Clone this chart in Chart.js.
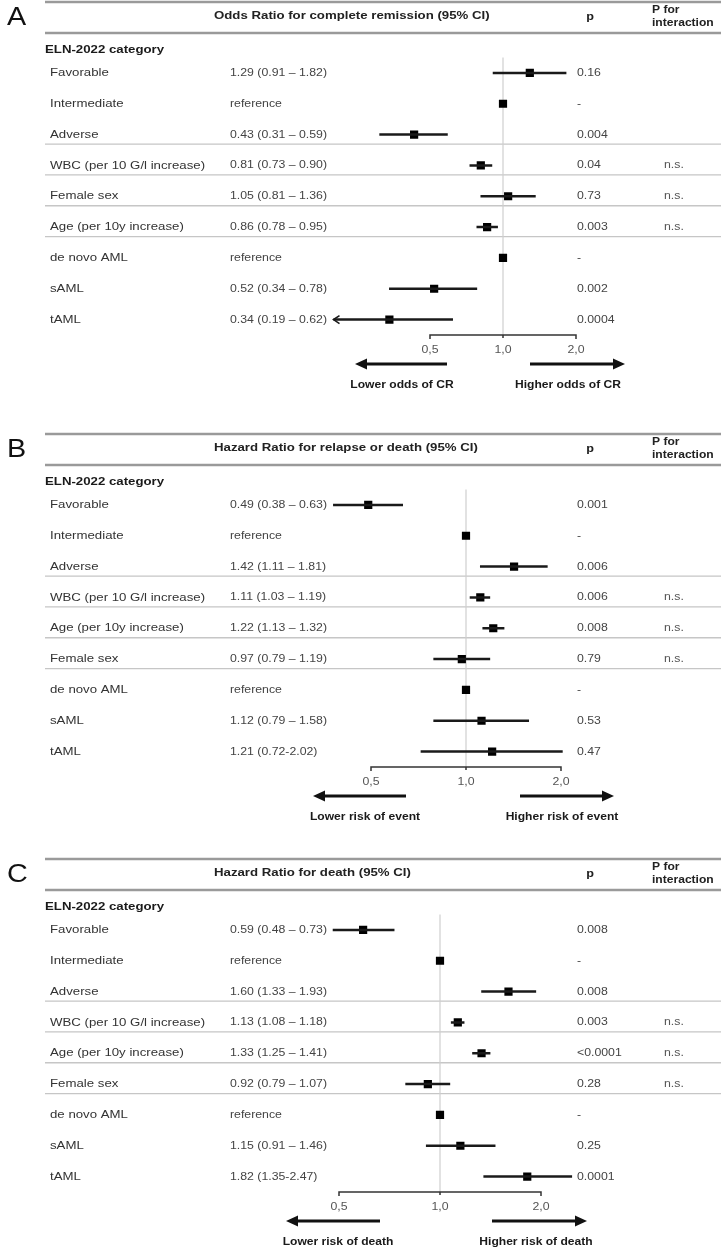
<!DOCTYPE html>
<html>
<head>
<meta charset="utf-8">
<script src="https://cdn.jsdelivr.net/npm/chart.js@4.4.1/dist/chart.umd.min.js"></script>
<style>
  html, body { margin: 0; padding: 0; background: #fff; }
  #wrap { position: relative; width: 721px; height: 1250px; }
  canvas { position: absolute; left: 0; }
</style>
</head>
<body>
<div id="wrap">
  <canvas id="chartA"></canvas>
  <canvas id="chartB"></canvas>
  <canvas id="chartC"></canvas>
</div>
<script>
// ---- data ----
const rowsA = ['Favorable', 'Intermediate', 'Adverse', 'WBC (per 10 G/l increase)', 'Female sex',
  'Age (per 10y increase)', 'de novo AML', 'sAML', 'tAML'];
const rowsBC = ['Favorable', 'Intermediate', 'Adverse', 'WBC (per 10 G/l increase)', 'Age (per 10y increase)',
  'Female sex', 'de novo AML', 'sAML', 'tAML'];

// A: odds ratio for complete remission
const estA = [1.29, 1, 0.43, 0.81, 1.05, 0.86, 1, 0.52, 0.34];
const loA = [0.91, null, 0.31, 0.73, 0.81, 0.78, null, 0.34, 0.19];
const hiA = [1.82, null, 0.59, 0.90, 1.36, 0.95, null, 0.78, 0.62];
const textA = ['1.29 (0.91 – 1.82)', 'reference', '0.43 (0.31 – 0.59)', '0.81 (0.73 – 0.90)', '1.05 (0.81 – 1.36)',
  '0.86 (0.78 – 0.95)', 'reference', '0.52 (0.34 – 0.78)', '0.34 (0.19 – 0.62)'];
const pA = ['0.16', '-', '0.004', '0.04', '0.73', '0.003', '-', '0.002', '0.0004'];
const intA = ['', '', '', 'n.s.', 'n.s.', 'n.s.', '', '', ''];

// B: hazard ratio for relapse or death
const estB = [0.49, 1, 1.42, 1.11, 1.22, 0.97, 1, 1.12, 1.21];
const loB = [0.38, null, 1.11, 1.03, 1.13, 0.79, null, 0.79, 0.72];
const hiB = [0.63, null, 1.81, 1.19, 1.32, 1.19, null, 1.58, 2.02];
const textB = ['0.49 (0.38 – 0.63)', 'reference', '1.42 (1.11 – 1.81)', '1.11 (1.03 – 1.19)', '1.22 (1.13 – 1.32)',
  '0.97 (0.79 – 1.19)', 'reference', '1.12 (0.79 – 1.58)', '1.21 (0.72-2.02)'];
const pB = ['0.001', '-', '0.006', '0.006', '0.008', '0.79', '-', '0.53', '0.47'];
const intB = ['', '', '', 'n.s.', 'n.s.', 'n.s.', '', '', ''];

// C: hazard ratio for death
const estC = [0.59, 1, 1.60, 1.13, 1.33, 0.92, 1, 1.15, 1.82];
const loC = [0.48, null, 1.33, 1.08, 1.25, 0.79, null, 0.91, 1.35];
const hiC = [0.73, null, 1.93, 1.18, 1.41, 1.07, null, 1.46, 2.47];
const textC = ['0.59 (0.48 – 0.73)', 'reference', '1.60 (1.33 – 1.93)', '1.13 (1.08 – 1.18)', '1.33 (1.25 – 1.41)',
  '0.92 (0.79 – 1.07)', 'reference', '1.15 (0.91 – 1.46)', '1.82 (1.35-2.47)'];
const pC = ['0.008', '-', '0.008', '0.003', '<0.0001', '0.28', '-', '0.25', '0.0001'];
const intC = ['', '', '', 'n.s.', 'n.s.', 'n.s.', '', '', ''];

const tickVals = [0.5, 1, 2];
const tickLabels = ['0,5', '1,0', '2,0'];

// ---- layout ----
const W = 721;
const SX = 1.15;          // the figure is slightly stretched horizontally
const FONT = '"Liberation Sans", Arial, sans-serif';

const panels = [
  { id: 'chartA', letter: 'A', title: 'Odds Ratio for complete remission (95% CI)',
    rows: rowsA, est: estA, lo: loA, hi: hiA, text: textA, p: pA, pint: intA,
    top: 0, height: 420, T: 2, center: 503, perDouble: 73, min: 0.2, max: 4,
    lowArrow: [-148, -56], highArrow: [27, 122], lowLabel: ['Lower odds of CR', -101], highLabel: ['Higher odds of CR', 65] },
  { id: 'chartB', letter: 'B', title: 'Hazard Ratio for relapse or death (95% CI)',
    rows: rowsBC, est: estB, lo: loB, hi: hiB, text: textB, p: pB, pint: intB,
    top: 420, height: 425, T: 14, center: 466, perDouble: 95, min: 0.25, max: 4,
    lowArrow: [-153, -60], highArrow: [54, 148], lowLabel: ['Lower risk of event', -101], highLabel: ['Higher risk of event', 96] },
  { id: 'chartC', letter: 'C', title: 'Hazard Ratio for death (95% CI)',
    rows: rowsBC, est: estC, lo: loC, hi: hiC, text: textC, p: pC, pint: intC,
    top: 845, height: 405, T: 14, center: 440, perDouble: 101, min: 0.25, max: 4,
    lowArrow: [-154, -60], highArrow: [52, 147], lowLabel: ['Lower risk of death', -102], highLabel: ['Higher risk of death', 96] }
];

function txt(ctx, s, x, y, font, color, align) {
  ctx.save();
  ctx.font = font;
  ctx.fillStyle = color;
  ctx.textBaseline = 'middle';
  ctx.textAlign = align || 'left';
  ctx.translate(x, y);
  ctx.scale(SX, 1);
  ctx.fillText(s, 0, 0);
  ctx.restore();
}

function hline(ctx, x1, x2, y, color, width) {
  ctx.save();
  ctx.strokeStyle = color;
  ctx.lineWidth = width;
  ctx.beginPath();
  ctx.moveTo(x1, y);
  ctx.lineTo(x2, y);
  ctx.stroke();
  ctx.restore();
}

function bigArrow(ctx, x1, x2, y, headLeft) {
  ctx.save();
  ctx.strokeStyle = '#111';
  ctx.fillStyle = '#111';
  ctx.lineWidth = 3;
  const tip = headLeft ? x1 : x2;
  const dir = headLeft ? 1 : -1;
  ctx.beginPath();
  ctx.moveTo(headLeft ? x1 + 8 : x1, y);
  ctx.lineTo(headLeft ? x2 : x2 - 8, y);
  ctx.stroke();
  ctx.beginPath();
  ctx.moveTo(tip, y);
  ctx.lineTo(tip + dir * 12, y - 5.5);
  ctx.lineTo(tip + dir * 12, y + 5.5);
  ctx.closePath();
  ctx.fill();
  ctx.restore();
}

const forestPlugin = {
  id: 'forest',
  beforeDatasetsDraw(chart) {
    const cfg = chart.options.plugins.forest;
    const ctx = chart.ctx;
    const xs = chart.scales.x;
    const ys = chart.scales.y;
    const area = chart.chartArea;
    const T = cfg.T;

    // header rules
    hline(ctx, 45, W, T, '#9a9a9a', 2.5);
    hline(ctx, 45, W, T + 31, '#9a9a9a', 2.5);

    // separators under Adverse, WBC and the next two rows
    [2, 3, 4, 5].forEach(i => {
      hline(ctx, 45, W, ys.getPixelForValue(i) + 9.5, '#c6c6c6', 1.4);
    });

    // reference line at 1
    const x1 = xs.getPixelForValue(1);
    ctx.save();
    ctx.strokeStyle = '#cfcfcf';
    ctx.lineWidth = 1.2;
    ctx.beginPath();
    ctx.moveTo(x1, area.top);
    ctx.lineTo(x1, area.bottom);
    ctx.stroke();
    ctx.restore();
  },
  afterDatasetsDraw(chart) {
    const cfg = chart.options.plugins.forest;
    const ctx = chart.ctx;
    const xs = chart.scales.x;
    const ys = chart.scales.y;
    const area = chart.chartArea;
    const T = cfg.T;

    // truncated intervals get an open arrowhead
    cfg.lo.forEach((v, i) => {
      if (v !== null && v < xs.min) {
        const y = ys.getPixelForValue(i);
        ctx.save();
        ctx.strokeStyle = '#1a1a1a';
        ctx.lineWidth = 1.6;
        ctx.beginPath();
        ctx.moveTo(area.left + 6, y - 4);
        ctx.lineTo(area.left, y);
        ctx.lineTo(area.left + 6, y + 4);
        ctx.stroke();
        ctx.restore();
      }
    });

    // panel letter and headers
    txt(ctx, cfg.letter, 7, T + 16, '25px ' + FONT, '#111');
    txt(ctx, cfg.title, 214, T + 14, 'bold 11.5px ' + FONT, '#222');
    txt(ctx, 'p', 590, T + 15, 'bold 11px ' + FONT, '#222', 'center');
    txt(ctx, 'P for', 652, T + 8.5, 'bold 10.5px ' + FONT, '#222');
    txt(ctx, 'interaction', 652, T + 21.5, 'bold 10.5px ' + FONT, '#222');
    txt(ctx, 'ELN-2022 category', 45, T + 47.5, 'bold 11.5px ' + FONT, '#1a1a1a');

    // table columns
    chart.data.labels.forEach((lab, i) => {
      const y = ys.getPixelForValue(i);
      txt(ctx, lab, 50, y, '11.5px ' + FONT, '#333');
      txt(ctx, cfg.text[i], 230, y, '10.7px ' + FONT, '#444');
      txt(ctx, cfg.p[i], 577, y, '10.7px ' + FONT, '#444');
      if (cfg.pint[i]) txt(ctx, cfg.pint[i], 664, y, '10.7px ' + FONT, '#555');
    });

    // axis bracket
    const axY = area.bottom;
    const pxs = tickVals.map(v => xs.getPixelForValue(v));
    ctx.save();
    ctx.strokeStyle = '#333';
    ctx.lineWidth = 1.5;
    ctx.beginPath();
    ctx.moveTo(pxs[0], axY + 4);
    ctx.lineTo(pxs[0], axY);
    ctx.lineTo(pxs[pxs.length - 1], axY);
    ctx.lineTo(pxs[pxs.length - 1], axY + 4);
    ctx.moveTo(pxs[1], axY);
    ctx.lineTo(pxs[1], axY + 3);
    ctx.stroke();
    ctx.restore();
    pxs.forEach((px, i) => txt(ctx, tickLabels[i], px, T + 348, '10.7px ' + FONT, '#555', 'center'));

    // direction arrows
    const c = xs.getPixelForValue(1);
    bigArrow(ctx, c + cfg.lowArrow[0], c + cfg.lowArrow[1], T + 362, true);
    bigArrow(ctx, c + cfg.highArrow[0], c + cfg.highArrow[1], T + 362, false);
    txt(ctx, cfg.lowLabel[0], c + cfg.lowLabel[1], T + 383, 'bold 10.5px ' + FONT, '#1a1a1a', 'center');
    txt(ctx, cfg.highLabel[0], c + cfg.highLabel[1], T + 383, 'bold 10.5px ' + FONT, '#1a1a1a', 'center');
  }
};

panels.forEach(pn => {
  const canvas = document.getElementById(pn.id);
  canvas.width = W;
  canvas.height = pn.height;
  canvas.style.width = W + 'px';
  canvas.style.height = pn.height + 'px';
  canvas.style.top = pn.top + 'px';

  const pxMin = pn.center + pn.perDouble * Math.log2(pn.min);
  const pxMax = pn.center + pn.perDouble * Math.log2(pn.max);

  new Chart(canvas.getContext('2d'), {
    type: 'bar',
    data: {
      labels: pn.rows,
      datasets: [
        {
          type: 'bar',
          data: pn.lo.map((l, i) => (l === null ? null : [l, pn.hi[i]])),
          backgroundColor: '#1a1a1a',
          barThickness: 1.8
        },
        {
          type: 'scatter',
          data: pn.est.map((v, i) => ({ x: v, y: pn.rows[i] })),
          pointStyle: 'rect',
          pointRadius: 5.8,
          backgroundColor: '#000',
          borderWidth: 0
        }
      ]
    },
    options: {
      indexAxis: 'y',
      responsive: false,
      animation: false,
      layout: {
        padding: { left: pxMin, right: W - pxMax, top: pn.T + 55.5, bottom: pn.height - (pn.T + 333) }
      },
      scales: {
        x: { type: 'logarithmic', min: pn.min, max: pn.max, display: false },
        y: { type: 'category', display: false, offset: true }
      },
      plugins: {
        legend: { display: false },
        tooltip: { enabled: false },
        forest: { letter: pn.letter, title: pn.title, text: pn.text, p: pn.p, pint: pn.pint, lo: pn.lo,
          T: pn.T, lowArrow: pn.lowArrow, highArrow: pn.highArrow, lowLabel: pn.lowLabel, highLabel: pn.highLabel }
      }
    },
    plugins: [forestPlugin]
  });
});
</script>
</body>
</html>
